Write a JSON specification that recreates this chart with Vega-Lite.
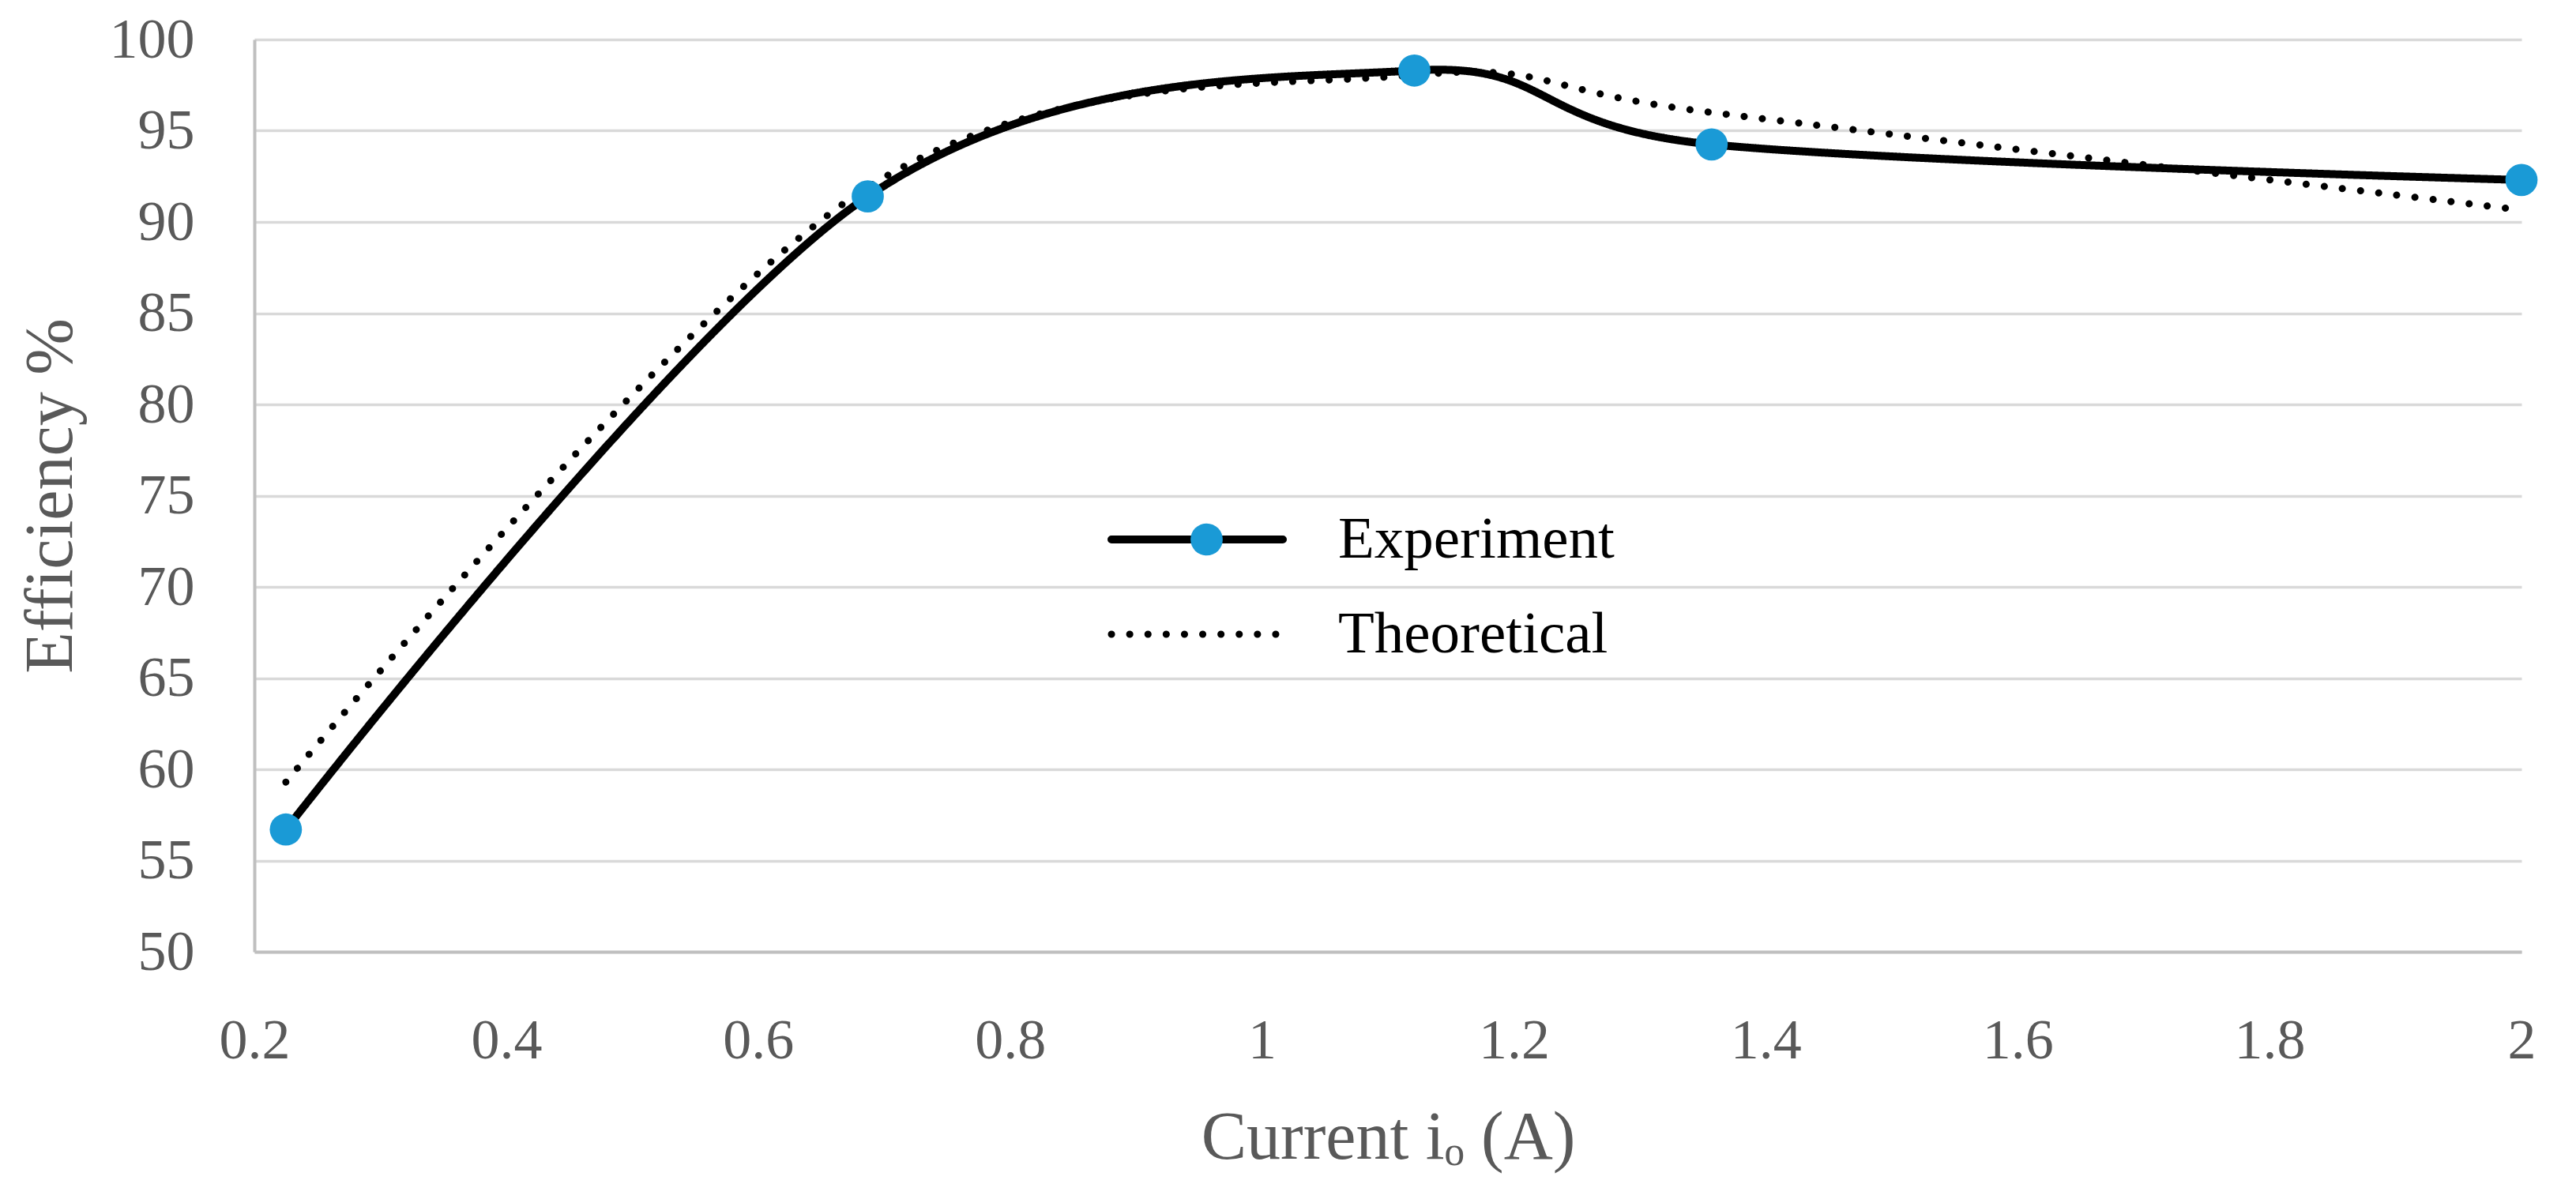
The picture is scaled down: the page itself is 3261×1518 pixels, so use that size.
{
  "$schema": "https://vega.github.io/schema/vega-lite/v6.json",
  "autosize": "none",
  "width": 2870,
  "height": 1155,
  "padding": {"left": 322, "top": 50, "right": 69, "bottom": 313},
  "background": "white",
  "config": {
    "view": {"stroke": null},
    "font": "Liberation Serif",
    "axis": {
      "labelFont": "Liberation Serif",
      "titleFont": "Liberation Serif",
      "labelColor": "#595959",
      "titleColor": "#595959",
      "titleFontWeight": "normal",
      "labelFontSize": 72,
      "titleFontSize": 86,
      "ticks": false,
      "tickSize": 0,
      "domainColor": "#bfbfbf",
      "domainWidth": 4,
      "gridColor": "#d9d9d9",
      "gridWidth": 3.5
    },
    "legend": {
      "labelFont": "Liberation Serif",
      "labelColor": "#000000",
      "labelFontSize": 75,
      "labelLimit": 1000
    }
  },
  "data": {
    "values": [
      {"current": 0.225, "efficiency": 56.7, "series": "Experiment"},
      {"current": 0.687, "efficiency": 91.4, "series": "Experiment"},
      {"current": 1.121, "efficiency": 98.3, "series": "Experiment"},
      {"current": 1.357, "efficiency": 94.25, "series": "Experiment"},
      {"current": 2.0, "efficiency": 92.3, "series": "Experiment"},
      {"current": 0.225, "efficiency": 59.3, "series": "Theoretical"},
      {"current": 0.687, "efficiency": 91.9, "series": "Theoretical"},
      {"current": 1.121, "efficiency": 98.05, "series": "Theoretical"},
      {"current": 1.357, "efficiency": 96.0, "series": "Theoretical"},
      {"current": 2.0, "efficiency": 90.65, "series": "Theoretical"}
    ]
  },
  "encoding": {
    "x": {
      "field": "current",
      "type": "quantitative",
      "scale": {"domain": [0.2, 2], "nice": false, "zero": false},
      "axis": {
        "title": "Current iₒ (A)",
        "values": [0.2, 0.4, 0.6, 0.8, 1, 1.2, 1.4, 1.6, 1.8, 2],
        "format": "~g",
        "grid": false,
        "labelPadding": 77,
        "titlePadding": 45,
        "labelFlush": false
      }
    },
    "y": {
      "field": "efficiency",
      "type": "quantitative",
      "scale": {"domain": [50, 100], "nice": false, "zero": false},
      "axis": {
        "title": "Efficiency %",
        "values": [50, 55, 60, 65, 70, 75, 80, 85, 90, 95, 100],
        "grid": true,
        "labelPadding": 76,
        "titlePadding": 30,
        "labelFlush": false
      }
    }
  },
  "layer": [
    {
      "mark": {"type": "line", "interpolate": "cardinal", "tension": 0, "strokeCap": "round", "color": "#000000"},
      "encoding": {
        "strokeDash": {
          "field": "series",
          "type": "nominal",
          "scale": {"domain": ["Experiment", "Theoretical"], "range": [[1, 0], [0.1, 23]]},
          "legend": {
            "title": null,
            "orient": "none",
            "legendX": 1080,
            "legendY": 573,
            "padding": 0,
            "symbolType": "stroke",
            "symbolSize": 47089,
            "symbolStrokeWidth": 10,
            "symbolStrokeColor": "#000000",
            "clipHeight": 120,
            "rowPadding": 0,
            "labelOffset": 65,
            "labelLimit": 1000,
            "zindex": 0,
            "encode": {"symbols": {"update": {"strokeCap": {"value": "round"}}}}
          }
        },
        "strokeWidth": {
          "field": "series",
          "type": "nominal",
          "scale": {"domain": ["Experiment", "Theoretical"], "range": [10, 9]},
          "legend": null
        }
      }
    },
    {
      "transform": [{"filter": "datum.series === 'Experiment'"}],
      "mark": {"type": "circle", "size": 1660, "opacity": 1},
      "encoding": {
        "fill": {
          "field": "series",
          "type": "nominal",
          "scale": {"domain": ["Experiment"], "range": ["#1a9ad6"]},
          "legend": {
            "title": null,
            "orient": "none",
            "legendX": 1168,
            "legendY": 573,
            "padding": 0,
            "symbolType": "circle",
            "symbolSize": 1660,
            "symbolStrokeWidth": 0,
            "clipHeight": 120,
            "labelExpr": "''",
            "zindex": 1
          }
        }
      }
    }
  ]
}
